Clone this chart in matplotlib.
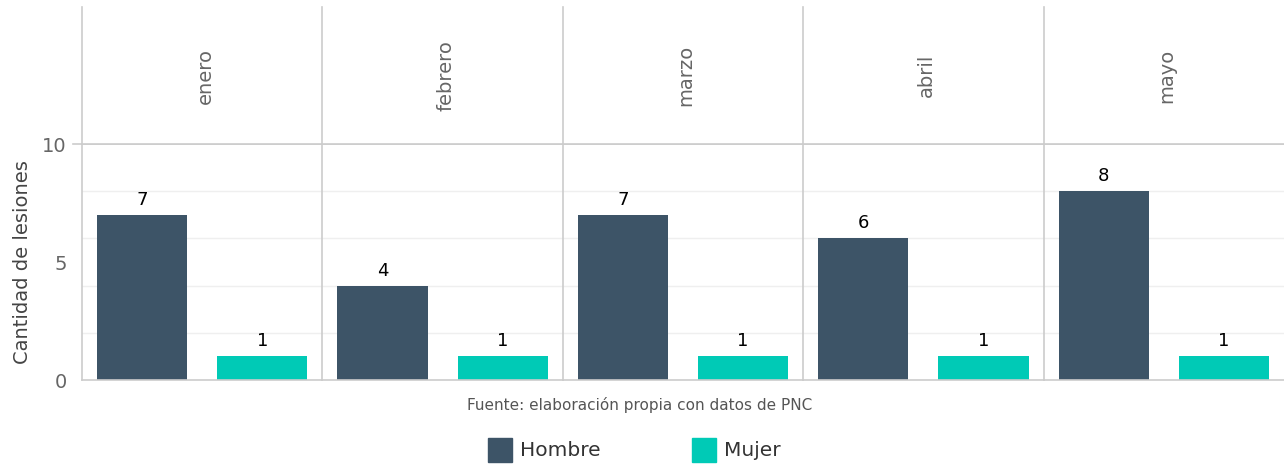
import matplotlib.pyplot as plt
from matplotlib.lines import Line2D
from matplotlib.patches import Rectangle

meses = ['enero', 'febrero', 'marzo', 'abril', 'mayo']
sexos = ['Hombre', 'Mujer']
hombre = [7, 4, 7, 6, 8]
mujer = [1, 1, 1, 1, 1]
colores = {'Hombre': '#3d5467', 'Mujer': '#00cab6'}
y_ticks = [0, 5, 10]

W, H = 1284, 466
fig = plt.figure(figsize=(W / 100, H / 100), dpi=100)

gris = '#cccccc'
left, right = 82, 1284
top_hdr, top_plot, bottom = 7, 144, 380
pw = (right - left) / len(meses)

for i, mes in enumerate(meses):
    x0 = left + i * pw
    ax = fig.add_axes([x0 / W, (H - bottom) / H, pw / W, (bottom - top_plot) / H])
    vals = [hombre[i], mujer[i]]
    bars = ax.bar([0, 1], vals, width=0.75, color=[colores[s] for s in sexos])
    for b, v in zip(bars, vals):
        ax.text(b.get_x() + b.get_width() / 2, v + 0.25, str(v),
                ha='center', va='bottom', fontsize=13, color='black')
    ax.set_xlim(-0.5, 1.5)
    ax.set_ylim(0, 10)
    for g in [2, 4, 6, 8]:
        ax.axhline(g, color='#efefef', lw=1, zorder=0)
    ax.set_xticks([])
    ax.set_yticks(y_ticks if i == 0 else [])
    if i == 0:
        ax.set_yticklabels([str(t) for t in y_ticks], fontsize=14, color='#666666')
        ax.tick_params(axis='y', length=0, pad=11)
        ax.set_ylabel('Cantidad de lesiones', fontsize=14, color='#444444', labelpad=7)
    for s in ['left', 'top', 'bottom']:
        ax.spines[s].set_color(gris)
        ax.spines[s].set_linewidth(1.2)
    ax.spines['right'].set_visible(False)

    hx = fig.add_axes([x0 / W, (H - top_plot) / H, pw / W, (top_plot - top_hdr) / H])
    hx.set_xticks([])
    hx.set_yticks([])
    for s in ['top', 'right', 'bottom']:
        hx.spines[s].set_visible(False)
    hx.spines['left'].set_color(gris)
    hx.spines['left'].set_linewidth(1.2)
    hx.text(0.5 + 3 / pw, 0.5, mes, rotation=90, ha='center', va='center',
            fontsize=14, color='#666666', transform=hx.transAxes)

fig.add_artist(Line2D([73 / W, 1], [(H - top_plot) / H] * 2, color=gris, lw=1.2))

fig.text(640 / W, (H - 405) / H, 'Fuente: elaboración propia con datos de PNC',
         ha='center', va='center', fontsize=11, color='#555555')

for sx, s in zip([488, 692], sexos):
    fig.add_artist(Rectangle((sx / W, (H - 462) / H), 24 / W, 24 / H,
                             color=colores[s], transform=fig.transFigure))
    fig.text((sx + 32) / W, (H - 451) / H, s, ha='left', va='center',
             fontsize=14.5, color='#333333')

fig.savefig('out.png', dpi=100)
